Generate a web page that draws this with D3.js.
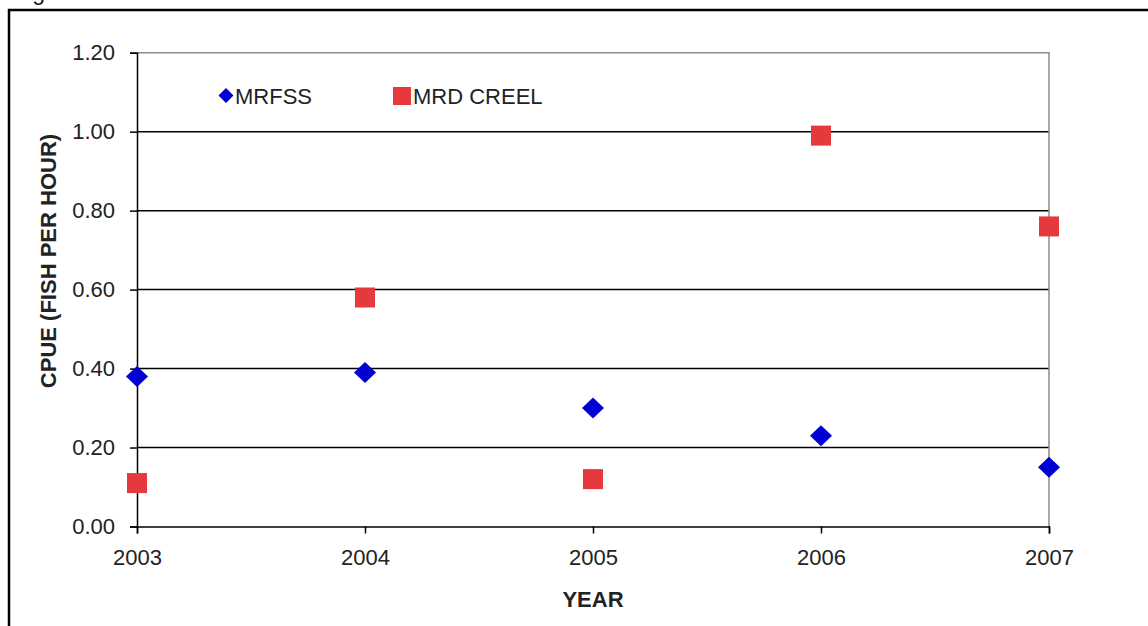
<!DOCTYPE html>
<html>
<head>
<meta charset="utf-8">
<script src="https://cdn.jsdelivr.net/npm/d3@7/dist/d3.min.js"></script>
<style>
  html, body { margin: 0; padding: 0; background: #fff; }
  svg { display: block; }
  text { font-family: "Liberation Sans", Arial, sans-serif; }
</style>
</head>
<body>
<svg id="chart" width="1148" height="626"></svg>
<script>
// CPUE by survey, 2003-2007
const years = ["2003", "2004", "2005", "2006", "2007"];
const mrfss = [0.38, 0.39, 0.30, 0.23, 0.15];
const mrdCreel = [0.11, 0.58, 0.12, 0.99, 0.76];
const seriesNames = ["MRFSS", "MRD CREEL"];
const yTicks = [0, 0.2, 0.4, 0.6, 0.8, 1.0, 1.2];
const yTickLabels = ["0.00", "0.20", "0.40", "0.60", "0.80", "1.00", "1.20"];
const yTitle = "CPUE (FISH PER HOUR)";
const xTitle = "YEAR";
const captionText = "Figure";

const svg = d3.select("#chart");
const W = 1148, H = 626;
const plot = { left: 137, right: 1049, top: 52.7, bottom: 526.5 };

const blue = "#0000d2";
const red = "#e5393e";
const textColor = "#222";

// Caption sitting above the frame (only its descender shows)
svg.append("text")
  .attr("x", 13).attr("y", 0)
  .attr("font-family", "'Liberation Serif', 'Times New Roman', serif")
  .attr("font-size", 23)
  .attr("fill", "#111")
  .text(captionText);

// Outer figure frame
svg.append("rect")
  .attr("x", 9).attr("y", 10)
  .attr("width", 1300).attr("height", 800)
  .attr("fill", "#fff")
  .attr("stroke", "#000")
  .attr("stroke-width", 2.5);

const x = d3.scalePoint().domain(years).range([plot.left, plot.right]);
const y = d3.scaleLinear().domain([0, 1.2]).range([plot.bottom, plot.top]);

// Horizontal gridlines (top edge is drawn as the grey plot border)
svg.append("g")
  .selectAll("line")
  .data(yTicks.filter(v => v > 0 && v < 1.2))
  .join("line")
  .attr("x1", plot.left).attr("x2", plot.right)
  .attr("y1", d => y(d)).attr("y2", d => y(d))
  .attr("stroke", "#000")
  .attr("stroke-width", 1.5);

// Grey plot-area border on top and right
svg.append("path")
  .attr("d", `M${plot.left},${y(1.2)}H${plot.right}V${plot.bottom}`)
  .attr("fill", "none")
  .attr("stroke", "#8a8a8a")
  .attr("stroke-width", 1.5);

// Y axis
const yAxis = d3.axisLeft(y)
  .tickValues(yTicks)
  .tickFormat((d, i) => yTickLabels[i])
  .tickSize(7)
  .tickPadding(15);
const gy = svg.append("g")
  .attr("transform", `translate(${plot.left},0)`)
  .call(yAxis);
gy.select(".domain").attr("stroke", "#000").attr("stroke-width", 1.5);
gy.selectAll(".tick line").attr("stroke", "#000").attr("stroke-width", 1.5);
gy.selectAll(".tick text")
  .attr("font-size", 22)
  .attr("fill", textColor)
  .attr("font-family", "'Liberation Sans', Arial, sans-serif");

// X axis
const xAxis = d3.axisBottom(x)
  .tickSize(7)
  .tickPadding(16);
const gx = svg.append("g")
  .attr("transform", `translate(0,${plot.bottom})`)
  .call(xAxis);
gx.select(".domain").attr("stroke", "#000").attr("stroke-width", 1.5);
gx.selectAll(".tick line").attr("stroke", "#000").attr("stroke-width", 1.5);
gx.selectAll(".tick text")
  .attr("font-size", 22)
  .attr("fill", textColor)
  .attr("font-family", "'Liberation Sans', Arial, sans-serif");

// Axis titles
svg.append("text")
  .attr("transform", `translate(56,261) rotate(-90)`)
  .attr("text-anchor", "middle")
  .attr("font-size", 22)
  .attr("font-weight", "bold")
  .attr("fill", textColor)
  .text(yTitle);

svg.append("text")
  .attr("x", (plot.left + plot.right) / 2)
  .attr("y", 607)
  .attr("text-anchor", "middle")
  .attr("font-size", 22)
  .attr("font-weight", "bold")
  .attr("fill", textColor)
  .text(xTitle);

// Marker shapes
const diamond = (hw, hh) => `M0,${-hh}L${hw},0L0,${hh}L${-hw},0Z`;
const square = s => `M${-s / 2},${-s / 2}h${s}v${s}h${-s}Z`;

// MRD CREEL squares
svg.append("g")
  .selectAll("path")
  .data(mrdCreel)
  .join("path")
  .attr("transform", (d, i) => `translate(${x(years[i])},${y(d)})`)
  .attr("d", square(20))
  .attr("fill", red);

// MRFSS diamonds
svg.append("g")
  .selectAll("path")
  .data(mrfss)
  .join("path")
  .attr("transform", (d, i) => `translate(${x(years[i])},${y(d)})`)
  .attr("d", diamond(11, 10.5))
  .attr("fill", blue);

// Legend
const legend = svg.append("g");
legend.append("path")
  .attr("transform", "translate(226,95.5)")
  .attr("d", diamond(7.5, 7.5))
  .attr("fill", blue);
legend.append("text")
  .attr("x", 235).attr("y", 103.5)
  .attr("font-size", 22)
  .attr("fill", textColor)
  .text(seriesNames[0]);
legend.append("path")
  .attr("transform", "translate(402,96)")
  .attr("d", square(18))
  .attr("fill", red);
legend.append("text")
  .attr("x", 413).attr("y", 103.5)
  .attr("font-size", 22)
  .attr("fill", textColor)
  .text(seriesNames[1]);
</script>
</body>
</html>
